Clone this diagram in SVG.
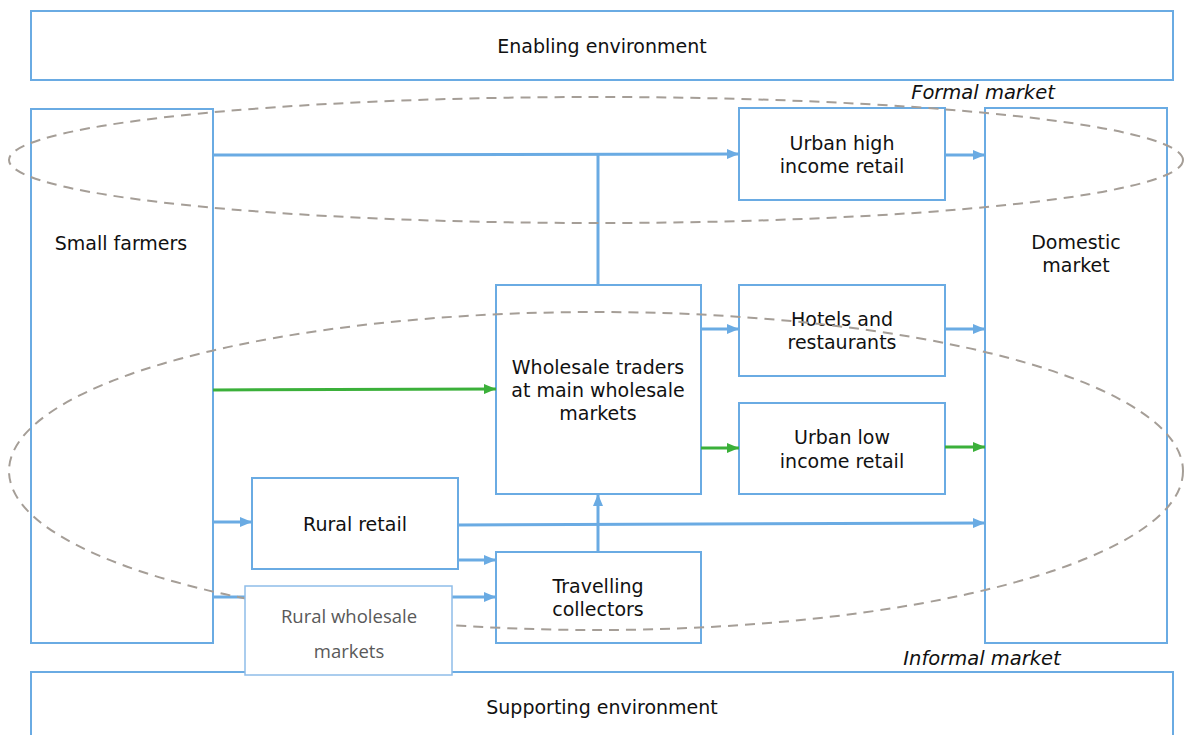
<svg xmlns="http://www.w3.org/2000/svg" width="1184" height="735" viewBox="0 0 1184 735">
  <style>
    .box { fill: #ffffff; stroke: #6aabe3; stroke-width: 2; }
    .box-light { fill: #ffffff; stroke: #8fbde9; stroke-width: 1.5; }
    .lbl { font-family: "DejaVu Sans", Verdana, sans-serif; font-size: 19px; fill: #111111; text-anchor: middle; }
    .lbl-grey { font-family: "Open Sans", "Liberation Sans", sans-serif; font-size: 18.5px; fill: #595959; text-anchor: middle; }
    .zone { fill: none; stroke: #a59e97; stroke-width: 2; stroke-dasharray: 10 7; }
    .zone-lbl { font-family: "DejaVu Sans", Verdana, sans-serif; font-size: 19.5px; font-style: italic; fill: #111111; text-anchor: middle; }
    .flow { fill: none; stroke: #6aabe3; stroke-width: 3; }
    .flow-green { fill: none; stroke: #3bb03a; stroke-width: 3; }
  </style>
  <defs>
    <marker id="arrow-blue" markerUnits="userSpaceOnUse" markerWidth="12" markerHeight="10" refX="12" refY="5" orient="auto">
      <path d="M0,0 L12,5 L0,10 z" fill="#6aabe3"/>
    </marker>
    <marker id="arrow-green" markerUnits="userSpaceOnUse" markerWidth="12" markerHeight="10" refX="12" refY="5" orient="auto">
      <path d="M0,0 L12,5 L0,10 z" fill="#3bb03a"/>
    </marker>
  </defs>

  <rect width="1184" height="735" fill="#ffffff"/>

  <g id="enabling-environment">
    <rect class="box" x="31" y="11" width="1142" height="69"/>
    <text class="lbl" x="602" y="53">Enabling environment</text>
  </g>
  <g id="supporting-environment">
    <rect class="box" x="31" y="672" width="1142" height="70"/>
    <text class="lbl" x="602" y="714">Supporting environment</text>
  </g>

  <g id="small-farmers">
    <rect class="box" x="31" y="109" width="182" height="534"/>
    <text class="lbl" x="121" y="250">Small farmers</text>
  </g>
  <g id="domestic-market">
    <rect class="box" x="985" y="108" width="182" height="535"/>
    <text class="lbl" x="1076" y="249">Domestic</text>
    <text class="lbl" x="1076" y="272">market</text>
  </g>
  <g id="urban-high-income-retail">
    <rect class="box" x="739" y="108" width="206" height="92"/>
    <text class="lbl" x="842" y="150">Urban high</text>
    <text class="lbl" x="842" y="173">income retail</text>
  </g>
  <g id="wholesale-traders">
    <rect class="box" x="496" y="285" width="205" height="209"/>
    <text class="lbl" x="598" y="374">Wholesale traders</text>
    <text class="lbl" x="598" y="397">at main wholesale</text>
    <text class="lbl" x="598" y="420">markets</text>
  </g>
  <g id="hotels-restaurants">
    <rect class="box" x="739" y="285" width="206" height="91"/>
    <text class="lbl" x="842" y="326">Hotels and</text>
    <text class="lbl" x="842" y="349">restaurants</text>
  </g>
  <g id="urban-low-income-retail">
    <rect class="box" x="739" y="403" width="206" height="91"/>
    <text class="lbl" x="842" y="444">Urban low</text>
    <text class="lbl" x="842" y="468">income retail</text>
  </g>
  <g id="rural-retail">
    <rect class="box" x="252" y="478" width="206" height="91"/>
    <text class="lbl" x="355" y="531">Rural retail</text>
  </g>
  <g id="travelling-collectors">
    <rect class="box" x="496" y="552" width="205" height="91"/>
    <text class="lbl" x="598" y="593">Travelling</text>
    <text class="lbl" x="598" y="616">collectors</text>
  </g>

  <g id="connectors">
    <path class="flow" d="M213,155 L739,154" marker-end="url(#arrow-blue)"/>
    <path class="flow" d="M598,285 L598,155"/>
    <path class="flow" d="M945,155 L985,155" marker-end="url(#arrow-blue)"/>
    <path class="flow-green" d="M213,390 L496,389" marker-end="url(#arrow-green)"/>
    <path class="flow" d="M701,329 L739,329" marker-end="url(#arrow-blue)"/>
    <path class="flow" d="M945,329 L985,329" marker-end="url(#arrow-blue)"/>
    <path class="flow-green" d="M701,448 L739,448" marker-end="url(#arrow-green)"/>
    <path class="flow-green" d="M945,447 L985,447" marker-end="url(#arrow-green)"/>
    <path class="flow" d="M213,522 L252,522" marker-end="url(#arrow-blue)"/>
    <path class="flow" d="M458,525 L985,523" marker-end="url(#arrow-blue)"/>
    <path class="flow" d="M458,560 L496,560" marker-end="url(#arrow-blue)"/>
    <path class="flow" d="M213,597 L246,597"/>
    <path class="flow" d="M452,597 L496,597" marker-end="url(#arrow-blue)"/>
    <path class="flow" d="M598,552 L598,494" marker-end="url(#arrow-blue)"/>
  </g>

  <g id="market-zones">
    <ellipse class="zone" cx="596" cy="160" rx="587" ry="63"/>
    <ellipse class="zone" cx="596" cy="471" rx="587" ry="159"/>
    <text class="zone-lbl" x="983" y="99">Formal market</text>
    <text class="zone-lbl" x="982" y="665">Informal market</text>
  </g>

  <g id="rural-wholesale-markets">
    <rect class="box-light" x="245" y="586" width="207" height="89"/>
    <text class="lbl-grey" x="349" y="623">Rural wholesale</text>
    <text class="lbl-grey" x="349" y="658">markets</text>
  </g>
</svg>
